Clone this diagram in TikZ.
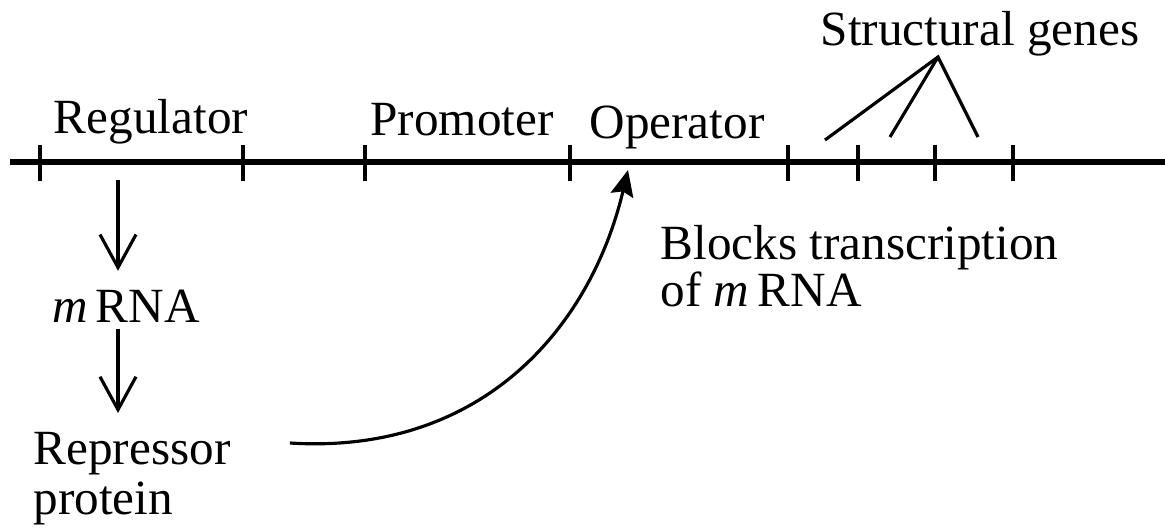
\documentclass[tikz,border=0pt]{standalone}
\usepackage{fontspec}
\setmainfont{Liberation Serif}
\usetikzlibrary{arrows.meta}

\begin{document}
\begin{tikzpicture}[every node/.style={font=\fontsize{14}{14}\selectfont,inner sep=0pt},
  dna/.style={line width=1.5pt},
  tickmark/.style={line width=1.3pt},
  flow/.style={line width=0.9pt,-{Straight Barb[length=3.3mm,width=3.6mm,line width=0.9pt]}},
  bind/.style={line width=0.9pt,-{Stealth[length=2.6mm,width=2.3mm,inset=0.4mm]}},
  gene/.style={line width=0.9pt}]
\useasboundingbox (0,0) rectangle (11.65,-5.28);
% the DNA strand
\coordinate (strandl) at (0.10,-1.62);
\coordinate (strandr) at (11.65,-1.62);
\draw [dna] (strandl)--(strandr);
\foreach \x in {0.40,2.43,3.65,5.70,7.88,8.58,9.35,10.13}
  \draw [tickmark] (\x,-1.45)--(\x,-1.81);

% regions
\node [anchor=base] (reg) at (1.51,-1.33) {Regulator};
\node [anchor=base] (prom) at (4.62,-1.35) {Promoter};
\node [anchor=base] (oper) at (6.77,-1.38) {Operator};
\node [anchor=base] (sg) at (9.80,-0.45) {Structural genes};

\coordinate (sgfoot) at (9.38,-0.57);
\coordinate (gene1) at (8.25,-1.40);
\coordinate (gene2) at (8.90,-1.37);
\coordinate (gene3) at (9.78,-1.37);
\draw [gene] (gene1)--(sgfoot)--(gene3);
\draw [gene] (gene2)--(sgfoot);

% repressor path
\node [anchor=base] (mrna) at (1.26,-3.22) {\textit{m}\,RNA};
\node [anchor=north west,align=left,font=\fontsize{14}{14}\selectfont] (rep) at (0.33,-4.32) {Repressor\\protein};
\coordinate (regout) at (1.18,-1.80);
\draw [flow,shorten >=1.8mm] (regout)--(regout|-mrna.north);
\draw [flow,shorten <=0.6mm,shorten >=1.9mm] (mrna.south-|regout)--(regout|-rep.north);

\coordinate (bindstart) at (2.90,-4.43);
\coordinate (bindend) at (6.28,-1.70);
\draw [bind] (bindstart) .. controls (4.80,-4.55) and (5.90,-3.30) .. (bindend);

\node [anchor=north west,align=left,font=\fontsize{14}{13.2}\selectfont] (block) at (6.60,-2.25) {Blocks transcription\\of \textit{m}\,RNA};

\end{tikzpicture}
\end{document}
